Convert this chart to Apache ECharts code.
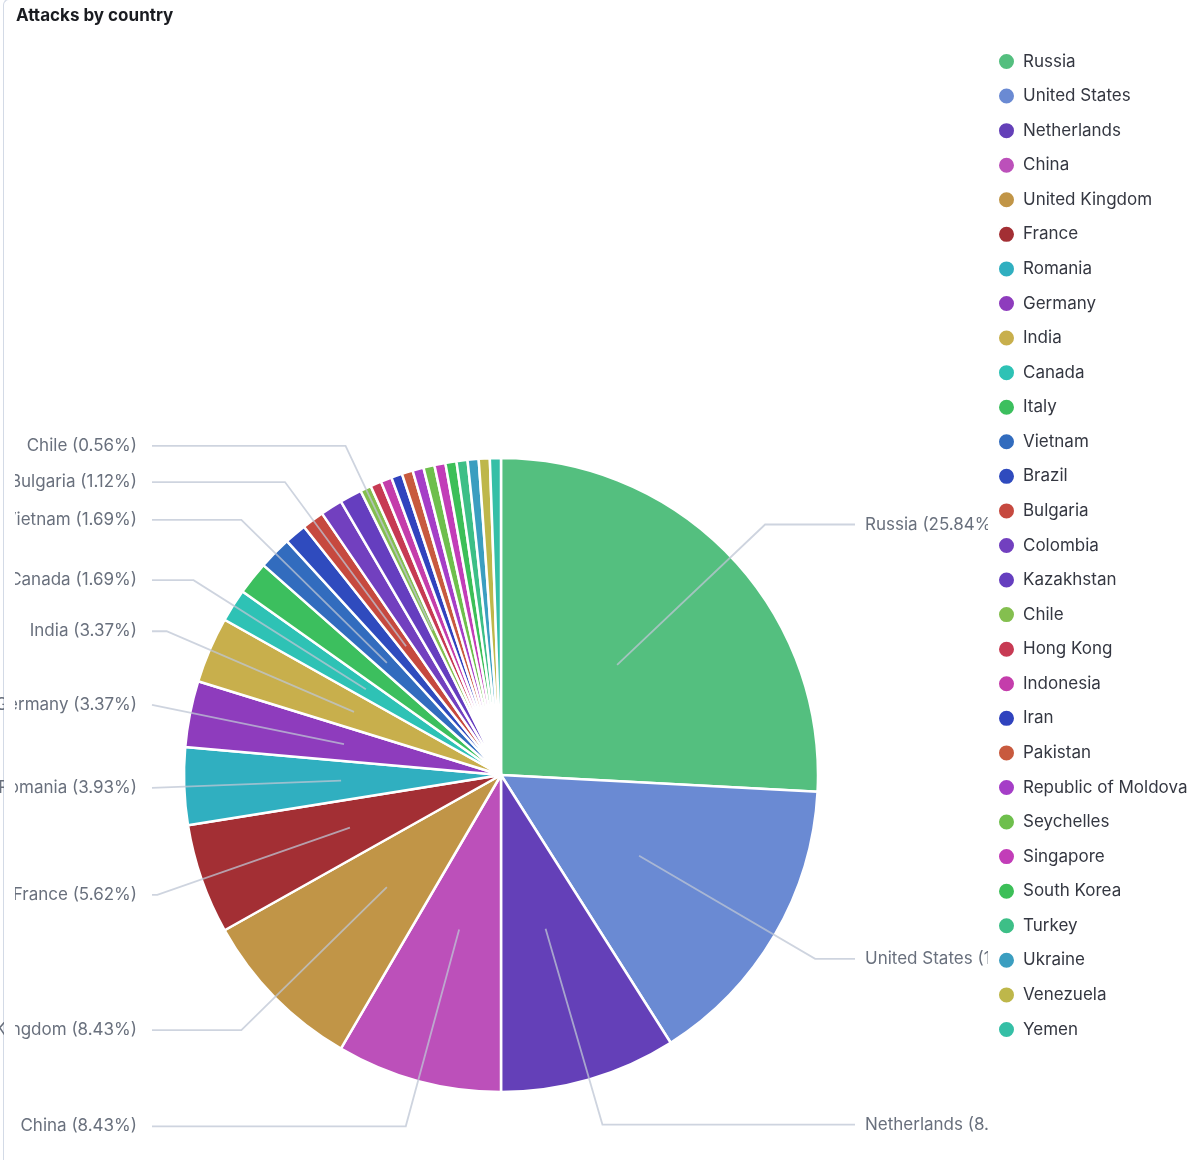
<!DOCTYPE html>
<html>
<head>
<meta charset="utf-8">
<title>Attacks by country</title>
<script src="https://cdn.jsdelivr.net/npm/echarts@6/dist/echarts.min.js"></script>
<style>
	html, body {margin: 0; padding: 0; background: #fff;}
	#frame {
		position: absolute; left: 3px; top: -1px; width: 1200px; height: 1162px;
		border-left: 1px solid #d3dae6; border-top: 1px solid #d3dae6;
		border-top-left-radius: 6px; box-sizing: border-box;
	}
	#chart {position: absolute; left: 0; top: 0; width: 1200px; height: 1160px;}
</style>
</head>
<body>
<div id="frame"></div>
<div id="chart"></div>
<script>
//	attack counts per country (178 in total)
var countries = ['Russia', 'United States', 'Netherlands', 'China', 'United Kingdom', 'France',
	'Romania', 'Germany', 'India', 'Canada', 'Italy', 'Vietnam', 'Brazil', 'Bulgaria',
	'Colombia', 'Kazakhstan', 'Chile', 'Hong Kong', 'Indonesia', 'Iran', 'Pakistan',
	'Republic of Moldova', 'Seychelles', 'Singapore', 'South Korea', 'Turkey', 'Ukraine',
	'Venezuela', 'Yemen'];
var attacks = [46, 27, 16, 15, 15, 10, 7, 6, 6, 3, 3, 3, 2, 2, 2, 2, 1, 1, 1, 1, 1, 1, 1, 1, 1, 1, 1, 1, 1];
var colors = ['#54BF7F', '#6A8AD3', '#6440B8', '#BC50BA', '#C19547', '#A32F34', '#30AFC0',
	'#8E3CBD', '#C8AF4C', '#2EC2B5', '#3CBF5E', '#326CBE', '#2F4BBE', '#C6493F', '#7240BF',
	'#653EBF', '#84BF4F', '#C73A53', '#C43DAB', '#3043BE', '#C85A3E', '#A53EC7', '#6EBF4C',
	'#C23DB8', '#3CBF58', '#3DBF87', '#3B9EC0', '#BEB74A', '#35BFA6'];
//	slices whose outside label is hidden (overlap)
var hiddenLabels = ['Italy', 'Brazil', 'Colombia', 'Kazakhstan', 'Hong Kong', 'Indonesia',
	'Iran', 'Pakistan', 'Republic of Moldova', 'Seychelles', 'Singapore', 'South Korea',
	'Turkey', 'Ukraine', 'Venezuela', 'Yemen'];

var cx = 501, cy = 775, R = 317, innerR = 160;
var total = 0;
for(var i=0; i<attacks.length; i++) {total += attacks[i];}

var pieData = [],
	labelData = [];
for(var i=0; i<countries.length; i++) {
	pieData.push({name: countries[i], value: attacks[i], itemStyle: {color: colors[i]}});
	var item = {name: countries[i], value: attacks[i]};
	if(hiddenLabels.indexOf(countries[i]) >= 0) {
		item.label = {show: false};
		item.labelLine = {show: false};
	}
	labelData.push(item);
}

//	move the label line start inside the slice, align line ends in two columns
function layoutLabel(p) {
	var pts = p.labelLinePoints;
	if(!pts) return {};
	var dx = pts[0][0] - cx, dy = pts[0][1] - cy;
	var len = Math.sqrt(dx*dx + dy*dy);
	var start = [cx + dx/len*innerR, cy + dy/len*innerR];
	var right = dx > 0;
	var endX = right ? cx + 354 : cx - 349;
	var elbow = [pts[1][0], pts[1][1]];
	if(right ? elbow[0] > endX : elbow[0] < endX) elbow = [endX, elbow[1]];
	return {
		x: right ? endX + 10 : endX - 15,
		y: elbow[1],
		align: right ? 'left' : 'right',
		verticalAlign: 'middle',
		labelLinePoints: [start, elbow, [endX, elbow[1]]]
	};
}

var myChart = echarts.init(document.getElementById('chart'));

var option = {
	animation: false,
	title: {
		text: 'Attacks by country',
		left: 16,
		top: 7,
		padding: 0,
		textStyle: {fontFamily: 'Inter', fontSize: 17, fontWeight: 700, color: '#1a1c21'}
	},
	legend: {
		z: 10,
		orient: 'vertical',
		left: 997,
		top: 52,
		icon: 'circle',
		itemWidth: 17,
		itemHeight: 17,
		itemGap: 15.57,
		padding: 0,
		selectedMode: false,
		data: countries,
		textStyle: {fontFamily: 'Inter', fontSize: 17, color: '#343741', lineHeight: 17, padding: [0, 0, 0, 3]}
	},
	//	white strips clip the outside labels like the panel does
	graphic: [
		{type: 'rect', z: 5, shape: {x: 4, y: 30, width: 11, height: 1130}, style: {fill: '#fff'}},
		{type: 'rect', z: 5, shape: {x: 988, y: 30, width: 212, height: 1130}, style: {fill: '#fff'}}
	],
	series: [
		{
			name: 'Attacks',
			type: 'pie',
			z: 2,
			center: [cx, cy],
			radius: R,
			startAngle: 90,
			clockwise: true,
			avoidLabelOverlap: false,
			itemStyle: {borderColor: '#fff', borderWidth: 2.5},
			label: {show: false},
			labelLine: {show: false},
			emphasis: {disabled: true},
			data: pieData
		},
		{
			//	transparent copy that carries labels and lines above the slices
			name: 'Labels',
			type: 'pie',
			z: 3,
			center: [cx, cy],
			radius: R,
			startAngle: 90,
			clockwise: true,
			avoidLabelOverlap: false,
			silent: true,
			itemStyle: {color: 'rgba(0,0,0,0)', borderWidth: 0},
			label: {
				show: true,
				formatter: function(p) {
					return p.name + ' (' + (p.value / total * 100).toFixed(2) + '%)';
				},
				fontFamily: 'Inter',
				fontSize: 17,
				color: '#69707d'
			},
			labelLine: {
				show: true,
				length: 47,
				length2: 20,
				lineStyle: {color: 'rgba(190,198,212,0.75)', width: 1.8}
			},
			labelLayout: layoutLabel,
			emphasis: {disabled: true},
			data: labelData
		}
	]
};

myChart.setOption(option);
</script>
</body>
</html>
